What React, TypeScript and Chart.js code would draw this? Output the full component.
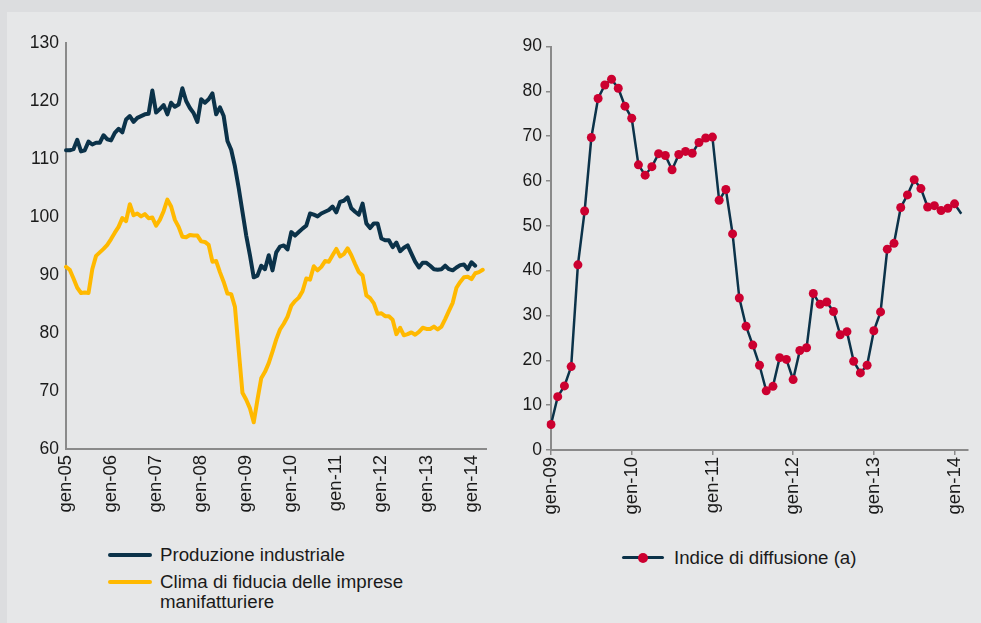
import React, { useEffect, useRef } from "react";
import { Chart, registerables } from "chart.js";

Chart.register(...registerables);

const FONT = "'Liberation Sans', Arial, Helvetica, sans-serif";
const NAVY = "#0b3249";
const YELLOW = "#ffb900";
const RED = "#cc0030";
const AXIS = "#8a8a8a";
const TEXT = "#1a1a1a";

const MONTHS = ["gen", "feb", "mar", "apr", "mag", "giu", "lug", "ago", "set", "ott", "nov", "dic"];

function monthLabels(startYear: number, count: number): string[] {
  const out: string[] = [];
  for (let i = 0; i < count; i++) {
    const y = (startYear + Math.floor(i / 12)) % 100;
    out.push(`${MONTHS[i % 12]}-${String(y).padStart(2, "0")}`);
  }
  return out;
}

// Categories: monthly, gen-05 .. mag-14 (left) and gen-09 .. mar-14 (right)
const leftLabels = monthLabels(2005, 113);
const rightLabels = monthLabels(2009, 63);

// Left panel series
const produzioneIndustriale = [
  111.5, 111.5, 111.7, 113.3, 111.3, 111.5, 113, 112.5, 112.8, 112.8,
  114.1, 113.4, 113.2, 114.5, 115.2, 114.6, 116.8, 117.4, 116.4, 117.1,
  117.4, 117.7, 117.8, 121.8, 118, 118.6, 119.3, 117.7, 119.7, 119,
  119.4, 122.2, 120, 118.8, 117.9, 116.4, 120.3, 119.7, 120.3, 121.3,
  117.7, 118.9, 117.4, 113.1, 111.6, 108.7, 105, 100.9, 96.8, 93.4,
  89.6, 89.9, 91.6, 91, 93.4, 90.8, 93.9, 94.9, 95.1, 94.4,
  97.4, 96.8, 97.4, 98, 98.5, 100.6, 100.4, 100.1, 100.6, 100.9,
  101.2, 101.8, 100.8, 102.6, 102.8, 103.4, 101.5, 100.9, 100.4, 102.3,
  98.9, 98.1, 98.9, 98.9, 96.3, 96, 96, 94.8, 95.6, 94.1,
  94.7, 95.1, 93.7, 92.3, 91.3, 92.1, 92.1, 91.6, 91, 90.9,
  91, 91.6, 91, 90.8, 91.3, 91.7, 91.8, 91, 92.2, 91.6,
];

const climaFiducia = [
  91.4, 90.9, 89.4, 87.8, 86.9, 87, 86.9, 91, 93.3, 93.9,
  94.5, 95.2, 96.2, 97.3, 98.3, 99.8, 99.3, 102.2, 100.3, 100.6,
  100.1, 100.5, 99.8, 99.9, 98.5, 99.5, 101, 103, 101.8, 99.5,
  98.3, 96.6, 96.5, 96.9, 96.8, 96.8, 95.8, 95.7, 95.2, 92.3,
  92.4, 90.5, 88.8, 86.8, 86.7, 84.5, 77, 69.7, 68.5, 67,
  64.6, 68.5, 72.2, 73.3, 74.8, 76.8, 78.9, 80.6, 81.6, 82.8,
  84.7, 85.5, 86.1, 87.2, 89.4, 89.2, 91.5, 90.8, 91.4, 92.4,
  92.3, 93.4, 94.5, 93.2, 93.6, 94.6, 93.4, 91.9, 90.5, 89.9,
  86.5, 86, 85.1, 83.3, 83.4, 82.9, 82.9, 82.3, 79.8, 80.9,
  79.6, 79.8, 80.1, 79.7, 80.2, 80.9, 80.7, 80.7, 81.1, 80.6,
  81.1, 82.4, 83.8, 85.2, 87.8, 88.8, 89.6, 89.7, 89.3, 90.3,
  90.5, 90.9,
];

// Right panel series
const indiceDiffusione = [
  5.7, 11.9, 14.3, 18.6, 41.3, 53.3, 69.7, 78.4, 81.4, 82.7,
  80.7, 76.7, 74.0, 63.6, 61.3, 63.2, 66.1, 65.7, 62.5, 65.9,
  66.6, 66.2, 68.6, 69.6, 69.8, 55.7, 58.1, 48.2, 33.9, 27.6,
  23.4, 18.9, 13.2, 14.2, 20.6, 20.2, 15.7, 22.2, 22.8, 34.9,
  32.5, 33.0, 30.9, 25.7, 26.4, 19.8, 17.2, 18.9, 26.6, 30.8,
  44.8, 46.1, 54.1, 56.9, 60.3, 58.3, 54.2, 54.5, 53.4, 53.9,
  54.9, 52.7,
];

// Tick settings
const leftYMin = 60;
const leftYMax = 130;
const rightYMin = 0;
const rightYMax = 90;
const yStep = 10;

const yTickFont = { family: FONT, size: 17.5 };
const xTickFont = { family: FONT, size: 18.5 };

function yearOnly(labels: string[]) {
  return (_v: any, i: number) => (i % 12 === 0 ? labels[i] : null);
}

export default function App() {
  const leftRef = useRef<HTMLCanvasElement | null>(null);
  const rightRef = useRef<HTMLCanvasElement | null>(null);

  useEffect(() => {
    const left = new Chart(leftRef.current as HTMLCanvasElement, {
      type: "line",
      data: {
        labels: leftLabels,
        datasets: [
          {
            label: "Clima di fiducia delle imprese manifatturiere",
            data: climaFiducia,
            borderColor: YELLOW,
            borderWidth: 4,
            pointRadius: 0,
            tension: 0,
            borderJoinStyle: "round",
            borderCapStyle: "round",
          },
          {
            label: "Produzione industriale",
            data: produzioneIndustriale,
            borderColor: NAVY,
            borderWidth: 4,
            pointRadius: 0,
            tension: 0,
            borderJoinStyle: "round",
            borderCapStyle: "round",
          },
        ],
      },
      options: {
        animation: false,
        responsive: false,
        layout: { padding: { left: 0, right: 9, top: 43, bottom: 0 } },
        plugins: { legend: { display: false }, tooltip: { enabled: false } },
        scales: {
          x: {
            type: "category",
            offset: false,
            grid: { display: false, drawTicks: false },
            border: { display: true, color: AXIS, width: 2 },
            ticks: {
              autoSkip: false,
              maxRotation: 90,
              minRotation: 90,
              padding: 6,
              color: TEXT,
              font: xTickFont,
              callback: yearOnly(leftLabels),
            },
            afterFit: (s: any) => {
              s.height = 70;
            },
          },
          y: {
            min: leftYMin,
            max: leftYMax,
            grid: { display: false, drawTicks: false },
            border: { display: true, color: AXIS, width: 2 },
            ticks: { stepSize: yStep, padding: 7, color: TEXT, font: yTickFont },
            afterFit: (s: any) => {
              s.width = 66;
            },
          },
        },
      },
    } as any);

    const pointRadii = indiceDiffusione.map((_, i) => (i === indiceDiffusione.length - 1 ? 0 : 4.5));

    const right = new Chart(rightRef.current as HTMLCanvasElement, {
      type: "line",
      data: {
        labels: rightLabels,
        datasets: [
          {
            label: "Indice di diffusione (a)",
            data: indiceDiffusione,
            borderColor: NAVY,
            borderWidth: 2.5,
            pointRadius: pointRadii,
            pointBackgroundColor: RED,
            pointBorderColor: RED,
            pointBorderWidth: 0,
            tension: 0,
          },
        ],
      },
      options: {
        animation: false,
        responsive: false,
        layout: { padding: { left: 0, right: 13, top: 46.5, bottom: 0 } },
        plugins: { legend: { display: false }, tooltip: { enabled: false } },
        scales: {
          x: {
            type: "category",
            offset: false,
            grid: { display: true, drawOnChartArea: false, drawTicks: true, tickLength: 5, color: AXIS, lineWidth: 1.5 },
            border: { display: true, color: AXIS, width: 2 },
            ticks: {
              autoSkip: false,
              maxRotation: 90,
              minRotation: 90,
              padding: 2,
              color: TEXT,
              font: xTickFont,
              callback: yearOnly(rightLabels),
            },
            afterFit: (s: any) => {
              s.height = 69;
            },
          },
          y: {
            min: rightYMin,
            max: rightYMax,
            grid: { display: true, drawOnChartArea: false, drawTicks: true, tickLength: 5, color: AXIS, lineWidth: 1.5 },
            border: { display: true, color: AXIS, width: 2 },
            ticks: { stepSize: yStep, padding: 4, color: TEXT, font: yTickFont },
            afterFit: (s: any) => {
              s.width = 51;
            },
          },
        },
      },
    } as any);

    return () => {
      left.destroy();
      right.destroy();
    };
  }, []);

  const textStyle: React.CSSProperties = {
    position: "absolute",
    fontFamily: FONT,
    fontSize: 18.7,
    lineHeight: "20px",
    color: TEXT,
    whiteSpace: "nowrap",
  };

  return (
    <div
      style={{
        position: "fixed",
        left: 0,
        top: 0,
        width: 981,
        height: 623,
        background: "#dcdddf",
        overflow: "hidden",
      }}
    >
      <div
        style={{
          position: "absolute",
          left: 7,
          top: 12,
          width: 974,
          height: 611,
          background: "#e6e7e8",
        }}
      />
      <canvas
        ref={leftRef}
        width={500}
        height={519}
        style={{ position: "absolute", left: 0, top: 0, width: 500, height: 519 }}
      />
      <canvas
        ref={rightRef}
        width={481}
        height={519}
        style={{ position: "absolute", left: 500, top: 0, width: 481, height: 519 }}
      />

      {/* Left legend */}
      <div style={{ position: "absolute", left: 108, top: 553, width: 44, height: 4, borderRadius: 2, background: NAVY }} />
      <div style={{ ...textStyle, left: 160, top: 545 }}>Produzione industriale</div>
      <div style={{ position: "absolute", left: 108, top: 580, width: 44, height: 4, borderRadius: 2, background: YELLOW }} />
      <div style={{ ...textStyle, left: 160, top: 572 }}>
        Clima di fiducia delle imprese
        <br />
        manifatturiere
      </div>

      {/* Right legend */}
      <div style={{ position: "absolute", left: 622, top: 556, width: 42, height: 3, borderRadius: 1.5, background: NAVY }} />
      <div style={{ position: "absolute", left: 638, top: 553, width: 10, height: 10, borderRadius: 5, background: RED }} />
      <div style={{ ...textStyle, left: 674, top: 548 }}>Indice di diffusione (a)</div>
    </div>
  );
}
